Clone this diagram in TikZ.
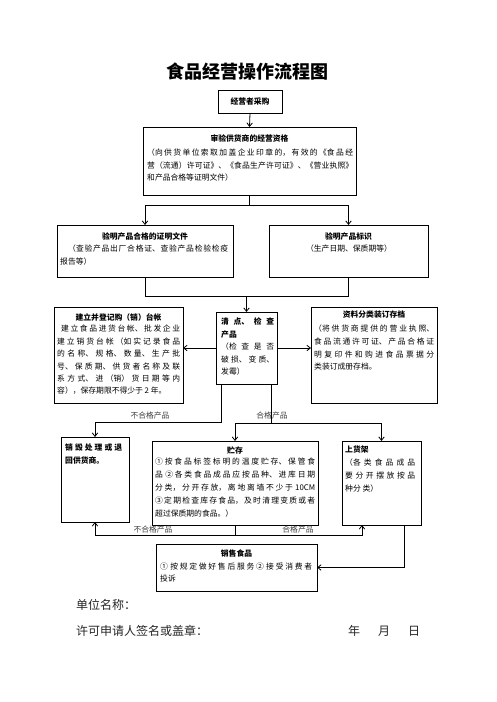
\documentclass[tikz,border=0pt]{standalone}
\usepackage{fontspec}
\setmainfont{Noto Sans CJK SC}
\usetikzlibrary{arrows.meta,calc}
\XeTeXlinebreaklocale "zh"
\XeTeXlinebreakskip=0pt plus 3pt
\newcommand\bodyfont{\fontsize{7.8}{12.4}\selectfont}
\begin{document}
\begin{tikzpicture}[x=1pt,y=-1pt,
  box/.style={draw, line width=0.9pt, anchor=north west, inner sep=0pt, outer sep=0pt},
  ttl/.style={font=\bodyfont\bfseries, inner sep=0pt, anchor=center},
  body/.style={font=\bodyfont, inner sep=0pt, anchor=north west, align=justify},
  lbl/.style={font=\bodyfont, inner sep=0pt, text=black!75},
  conn/.style={line width=0.8pt},
  arr/.style={-{Straight Barb[length=3.5pt,width=5.5pt]}},
  foot/.style={font=\fontsize{12}{14}\selectfont, inner sep=0pt, anchor=west, text=black!85}]
\fill[white] (0,0) rectangle (496,702);
\useasboundingbox (0,0) rectangle (496,702);

\node[font=\fontsize{18}{20}\selectfont\bfseries, inner sep=0pt] (title) at (247,72) {食品经营操作流程图};

% row 1
\node[box, minimum width=64pt, minimum height=23pt, font=\bodyfont\bfseries] (b1) at (218,90) {经营者采购};

% row 2
\node[box, minimum width=213pt, minimum height=68pt] (b2) at (143,127) {};
\node[ttl] (b2t) at (249.5,138) {审验供货商的经营资格};
\node[body, text width=206pt] (b2b) at (147,149) {（向供货单位索取加盖企业印章的，有效的《食品经\linebreak 营（流通）许可证》、《食品生产许可证》、《营业执照》\linebreak 和产品合格等证明文件）};

% row 3
\node[box, minimum width=176pt, minimum height=52pt] (b3L) at (57,225) {};
\node[ttl] (b3Lt) at (145,237) {验明产品合格的证明文件};
\node[body, text width=168pt] (b3Lb) at (60,245) {\hspace*{8pt}（查验产品出厂合格证、查验产品检验检疫\linebreak 报告等）};

\node[box, minimum width=159pt, minimum height=52pt] (b3R) at (269,225) {};
\node[ttl] (b3Rt) at (348.5,237) {验明产品标识};
\node[font=\bodyfont, inner sep=0pt] (b3Rb) at (349,249) {（生产日期、保质期等）};

% row 4
\node[box, minimum width=129pt, minimum height=96pt] (b4L) at (54,307) {};
\node[ttl] (b4Lt) at (118.5,317) {建立并登记购（销）台帐};
\node[body, text width=123pt] (b4Lb) at (57,325) {\parfillskip=0pt \hspace*{4pt}建立食品进货台帐、批发企业\linebreak 建立销货台帐（如实记录食品\linebreak 的名称、规格、数量、生产批\linebreak 号、保质期、供货者名称及联\linebreak 系方式、进（销）货日期等内\linebreak 容），保存期限不得少于 2 年。};

\node[box, minimum width=61pt, minimum height=72pt] (b4M) at (216,312) {};
\node[body, text width=53pt, font=\fontsize{7.8}{12.5}\selectfont] (b4Mb) at (221,318) {{\bfseries 清点、检查}\linebreak {\bfseries 产品}\\ （检查是否\linebreak 破损、变质、\linebreak 发霉）};

\node[box, minimum width=126pt, minimum height=96pt] (b4R) at (311,307) {};
\node[ttl] (b4Rt) at (374,315) {资料分类装订存档};
\node[body, text width=120pt, font=\fontsize{7.8}{12.7}\selectfont] (b4Rb) at (314,325) {（将供货商提供的营业执照、\linebreak 食品流通许可证、产品合格证\linebreak 明复印件和购进食品票据分\linebreak 类装订成册存档。};

% row 5
\node[box, minimum width=68pt, minimum height=85pt] (b5L) at (61,437) {};
\node[body, text width=57pt, font=\fontsize{7.8}{12.8}\selectfont\bfseries] (b5Lb) at (65,444) {销毁处理或退\linebreak 回供货商。};

\node[box, minimum width=166pt, minimum height=84pt] (b5M) at (152,441) {};
\node[ttl] (b5Mt) at (235,450) {贮存};
\node[body, text width=160pt, font=\fontsize{7.8}{12.8}\selectfont] (b5Mb) at (155,458) {①按食品标签标明的温度贮存、保管食\linebreak 品 ②各类食品成品应按品种、进库日期\linebreak 分类，分开存放，离地离墙不少于 10CM\linebreak ③定期检查库存食品，及时清理变质或者\linebreak 超过保质期的食品。）};

\node[box, minimum width=79pt, minimum height=84pt] (b5R) at (342,441) {};
\node[body, text width=70pt, font=\fontsize{7.8}{12.8}\selectfont] (b5Rb) at (345,446) {{\bfseries 上货架}\\ （各类食品成品\linebreak 要分开摆放按品\linebreak 种分 类）};

% row 6
\node[box, minimum width=161pt, minimum height=47pt] (b6) at (156,544) {};
\node[ttl] (b6t) at (236.5,553) {销售食品};
\node[body, text width=152pt, font=\fontsize{7.8}{11.5}\selectfont] (b6b) at (160,563) {① 按规定做好售后服务② 接受消费者\linebreak 投诉};

% connectors
\draw[conn,arr] (b1.south) -- (b2.north);
\coordinate (j1) at (249.5,205);
\draw[conn] (b2.south) -- (j1);
\draw[conn,arr] (j1) -| (b3L.north);
\draw[conn,arr] (j1) -| (b3R.north);

\coordinate (j2) at (246.5,296);
\draw[conn] (b3L.south) |- (j2);
\draw[conn] (b3R.south) |- (j2);
\draw[conn,arr] (j2) -- (b4M.north);

\draw[conn,arr] (b4M.west) -- (b4M.west -| b4L.east);
\draw[conn,arr] (b4M.east) -- (b4M.east -| b4R.west);

\coordinate (n1) at (221,422);
\draw[conn,arr] (b4M.south -| n1) -- (n1) -| (b5L.north);
\coordinate (g1) at (271,423);
\draw[conn] (b4M.south -| g1) -- (g1);
\draw[conn,arr] (g1) -| (b5M.north);
\draw[conn,arr] (g1) -| (b5R.north);

\coordinate (k1) at (235,535);
\coordinate (r5a) at (362,525);
\coordinate (r5b) at (404,525);
\draw[conn] (b5M.south) -- (k1);
\draw[conn,arr] (k1) -| (b5L.south);
\draw[conn,arr] (k1) -| (r5a);
\draw[conn,arr] (r5b) |- (b6.east);

% labels
\node[lbl] (l1) at (150,416) {不合格产品};
\node[lbl] (l2) at (272,416) {合格产品};
\node[lbl] (l3) at (153,530) {不合格产品};
\node[lbl] (l4) at (298,530) {合格产品};

% footer
\node[foot] (f1) at (76,605) {单位名称：};
\node[foot] (f2) at (76,631) {许可申请人签名或盖章：};
\node[foot] (f3) at (348,631) {年\hspace{18pt}月\hspace{18pt}日};
\end{tikzpicture}
\end{document}
